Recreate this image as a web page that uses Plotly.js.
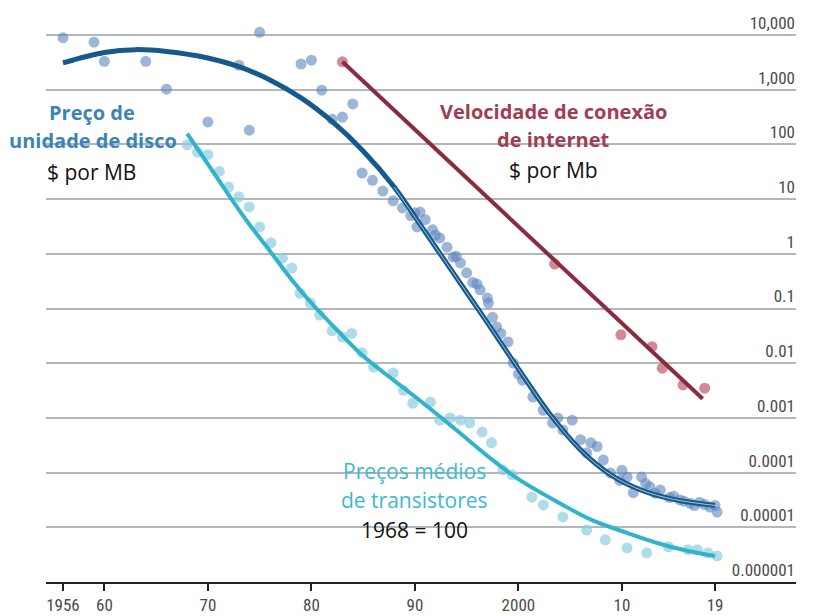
<!DOCTYPE html>
<html>
<head>
<meta charset="utf-8">
<script src="https://cdn.plot.ly/plotly-3.0.1.min.js"></script>
<style>html,body{margin:0;padding:0;background:#fff;}#chart{width:828px;height:616px;}</style>
</head>
<body>
<div id="chart"></div>
<script>
// ---- Disk drive price ($ per MB) ----
const diskYears = [1956,1959,1960,1964,1966,1970,1973,1974,1975,1979,1980,1981,1982,1983,1984,
  1984.9,1985.9,1986.9,1987.9,1988.8,1989.6,1990,1990.5,1990.2,1991,1991.7,1992,1992.4,1993.1,1993.7,1994,1994.4,1995,1995.6,1996,1996.3,1997,1997.1,1997.5,1997.9,1998.3,
  1999,1999.5,2000,2000.4,2001.4,2002.4,2003.3,2003.8,2004.3,2005.2,2006,2006.6,2007,2007.6,2008.2,2008.9,2009.8,2010,2010.5,2011.1,2011.9,2012.3,2012.7,2013.2,2013.7,2014.6,2015,2015.6,2016,2016.6,2017,2017.5,2018,2018.5,2019,2019.2];
const diskPrice = [8900,7400,3300,3300,1020,257,2800,182,11200,2950,3470,980,288,316,550,
  30,22,14,9.3,6.9,5.0,5.6,5.8,3.1,4.2,2.75,2.2,1.95,1.32,0.87,0.9,0.68,0.45,0.30,0.28,0.22,0.155,0.126,0.069,0.046,0.035,
  0.0245,0.010,0.0063,0.0049,0.0024,0.00138,0.00081,0.001,0.0006,0.00091,0.0004,0.00023,0.00035,0.0003,0.00017,0.000098,0.000072,0.00011,0.000083,0.000043,0.000083,0.000063,0.000055,0.000042,0.000048,0.000035,0.000037,0.0000316,0.00003,0.0000275,0.000025,0.0000288,0.000026,0.0000234,0.000025,0.000019];
const diskFitYears = [1956,1960,1963,1966,1970,1973,1976,1979,1982,1985,1988,1991,1994,1997,2000,2003,2006,2009,2012,2015,2019];
const diskFitPrice = [3100,4800,5400,5000,3800,2630,1510,710,263,76,16.6,2.5,0.37,0.055,0.0079,0.0012,0.00026,0.000089,0.0000468,0.0000324,0.0000251];

// ---- Average transistor price (1968 = 100) ----
const trYears = [1968,1969,1970,1971.1,1972,1973,1974,1975,1976.1,1977.2,1978.1,1978.9,1979.9,1980.8,1982,1983,1983.9,1984.9,
  1986,1987.9,1988.9,1989.8,1991.5,1992.4,1993.4,1994.4,1995.3,1996.5,1997.4,1998.5,1999.4,2001.3,2002.4,2004.3,2006.6,2008.4,2010.5,2012.4,2014.5,2016.4,2017.3,2018.3,2019.2];
const trPrice = [98,72,65,32,16.6,11,7.2,3.1,1.58,0.83,0.55,0.19,0.126,0.076,0.039,0.030,0.035,0.0155,
  0.0085,0.0066,0.0032,0.00186,0.00195,0.00091,0.001,0.00091,0.00081,0.00055,0.00035,0.000112,0.000091,0.0000355,0.0000257,0.0000155,0.0000089,0.0000059,0.0000042,0.0000034,0.0000044,0.0000039,0.0000039,0.0000034,0.000003];
const trFitYears = [1968,1970,1972,1974,1976,1978,1980,1982.5,1985,1988,1991,1994,1997.5,2000,2004,2007,2010.5,2014,2017,2019];
const trFitPrice = [158,43.7,12,3.47,1.12,0.355,0.126,0.04,0.0135,0.0048,0.00174,0.0006,0.00017,0.000076,0.0000275,0.0000138,0.0000079,0.0000048,0.0000035,0.000003];

// ---- Internet connection speed ($ per Mb) ----
const netYears = [1983,2003.5,2009.9,2012.9,2013.9,2015.9,2018];
const netPrice = [3240,0.65,0.033,0.02,0.0081,0.004,0.0035];
const netFitYears = [1983,2017.8];
const netFitPrice = [3240,0.00224];

// ---- Axis ticks ----
const xTickVals = [1956,1960,1970,1980,1990,2000,2010,2019];
const xTickText = ['1956','60','70','80','90','2000','10','19'];
const yTickVals = [1e-6,1e-5,1e-4,1e-3,1e-2,1e-1,1,10,100,1000,10000];
const yTickText = ['0.000001','0.00001','0.0001','0.001','0.01','0.1','1','10','100','1,000','10,000'];

const hlYears = diskFitYears.filter(y => y >= 1988);
const hlPrice = diskFitPrice.slice(diskFitYears.length - hlYears.length);

const traces = [
  {x: diskYears, y: diskPrice, mode: 'markers', type: 'scatter',
   marker: {size: 11, color: 'rgba(92,134,190,0.6)'}},
  {x: trYears, y: trPrice, mode: 'markers', type: 'scatter',
   marker: {size: 11, color: 'rgba(140,205,222,0.7)'}},
  {x: netYears, y: netPrice, mode: 'markers', type: 'scatter',
   marker: {size: 11, color: 'rgba(196,96,116,0.75)'}},
  {x: diskFitYears, y: diskFitPrice, mode: 'lines', type: 'scatter',
   line: {color: '#165a8c', width: 5, shape: 'spline', smoothing: 1}},
  {x: hlYears, y: hlPrice, mode: 'lines', type: 'scatter',
   line: {color: 'rgba(225,238,250,0.7)', width: 1, shape: 'spline', smoothing: 1}},
  {x: trFitYears, y: trFitPrice, mode: 'lines', type: 'scatter',
   line: {color: '#30b4c9', width: 4, shape: 'spline', smoothing: 1}},
  {x: netFitYears, y: netFitPrice, mode: 'lines', type: 'scatter',
   line: {color: '#8a2c40', width: 4}}
];

const tickFont = {family: '"Liberation Sans Narrow", "Arial Narrow", "Roboto Condensed", "Liberation Sans", sans-serif', color: '#4a4a4a'};
const annFont = '"Open Sans", "Noto Sans", sans-serif';
function ann(text, x, y, color, bold) {
  return {text: bold ? '<b>' + text + '</b>' : text, x: x, y: y, xref: 'paper', yref: 'paper',
    xanchor: 'center', yanchor: 'middle', showarrow: false,
    font: {family: annFont, size: bold ? 20 : 21, color: color}};
}

const layout = {
  width: 828, height: 616,
  margin: {l: 46, r: 32, t: 10, b: 34},
  paper_bgcolor: '#ffffff', plot_bgcolor: '#ffffff',
  showlegend: false,
  xaxis: {
    range: [1954.36, 2026.82], showgrid: false, zeroline: false,
    showline: true, linecolor: '#222', linewidth: 2,
    ticks: 'outside', ticklen: 7, tickwidth: 2, tickcolor: '#222',
    tickvals: xTickVals, ticktext: xTickText,
    tickfont: Object.assign({size: 17}, tickFont)
  },
  yaxis: {
    type: 'log', range: [-6, 4.457], side: 'right',
    showgrid: true, gridcolor: '#b3b7bb', gridwidth: 2,
    zeroline: false, showline: false, ticks: '',
    ticklabelposition: 'inside', ticklabelshift: -12, ticklabelstandoff: -2,
    tickvals: yTickVals, ticktext: yTickText,
    tickfont: Object.assign({size: 17}, tickFont)
  },
  annotations: [
    ann('Preço de', 0.0613, 0.820, '#3a84b9', true),
    ann('unidade de disco', 0.0627, 0.771, '#3a84b9', true),
    ann('$ por MB', 0.0613, 0.717, '#111', false),
    ann('Velocidade de conexão', 0.6773, 0.822, '#a13d52', true),
    ann('de internet', 0.676, 0.773, '#a13d52', true),
    ann('$ por Mb', 0.6773, 0.720, '#111', false),
    ann('Preços médios', 0.4907, 0.194, '#3bbad3', false),
    ann('de transistores', 0.4907, 0.143, '#3bbad3', false),
    ann('1968 = 100', 0.4907, 0.091, '#111', false)
  ]
};

Plotly.newPlot('chart', traces, layout, {displayModeBar: false, staticPlot: true});
</script>
</body>
</html>
